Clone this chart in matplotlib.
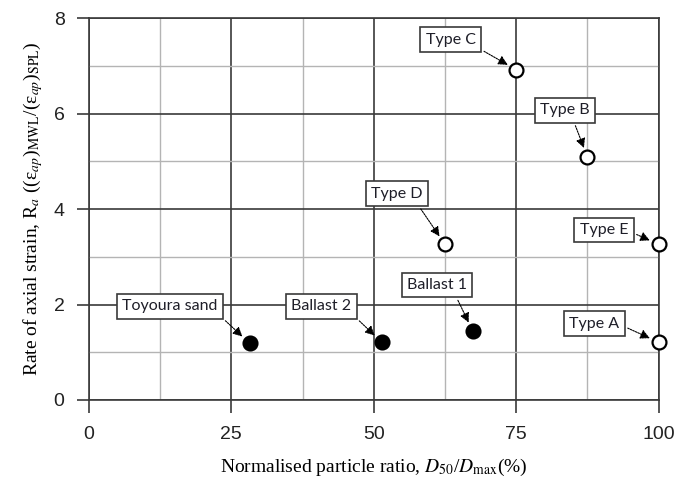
import matplotlib
matplotlib.use('Agg')
import matplotlib.pyplot as plt
from matplotlib.ticker import MultipleLocator

#%%
# data
names = ['Toyoura sand', 'Ballast 2', 'Ballast 1', 'Type A', 'Type E', 'Type D', 'Type C', 'Type B']
ratio = [28.2, 51.4, 67.4, 100, 100, 62.5, 75, 87.5]
strain = [1.19, 1.21, 1.44, 1.21, 3.26, 3.26, 6.92, 5.09]
filled = [True, True, True, False, False, False, False, False]
# where the label boxes sit
label_x = [14.2, 40.8, 61.1, 88.7, 90.4, 54.1, 63.5, 83.5]
label_y = [1.96, 1.96, 2.41, 1.60, 3.56, 4.32, 7.55, 6.07]
# point on the box the arrow leaves from
arrow_from = [(1, 0), (1, 0), (0.78, 0), (1, 0.45), (1, 0.45), (0.85, 0), (1, 0), (0.65, 0)]

plt.rcParams['mathtext.fontset'] = 'stix'

#%%
fig = plt.figure(figsize=(6.89, 4.84), dpi=100)
ax = fig.add_axes([0.129, 0.1736, 0.827, 0.789])

ax.set_xlim(0, 100)
ax.set_ylim(0, 8)
ax.xaxis.set_major_locator(MultipleLocator(25))
ax.xaxis.set_minor_locator(MultipleLocator(12.5))
ax.yaxis.set_major_locator(MultipleLocator(2))
ax.yaxis.set_minor_locator(MultipleLocator(1))

ax.grid(which='minor', color='#b4b4b4', lw=1.0)
ax.grid(which='major', color='#3a3a3a', lw=1.2)
ax.set_axisbelow(True)
for s in ax.spines.values():
    s.set_color('#3a3a3a')
    s.set_linewidth(1.2)

ax.tick_params(which='major', direction='out', length=9, width=1.2, color='#3a3a3a',
               labelsize=14, labelcolor='#222222')
ax.tick_params(axis='x', pad=10)
ax.tick_params(axis='y', pad=8.5)
ax.tick_params(which='minor', length=0)
for lab in ax.get_xticklabels() + ax.get_yticklabels():
    lab.set_family('Liberation Sans')

#%%
# points
for x, y, f in zip(ratio, strain, filled):
    ax.plot(x, y, 'o', ms=10, mfc='black' if f else 'white', mec='black', mew=1.6,
            zorder=5, clip_on=False)

# label boxes with arrows
for n, x, y, lx, ly, rp in zip(names, ratio, strain, label_x, label_y, arrow_from):
    ax.annotate(n, xy=(x, y), xytext=(lx, ly), ha='center', va='center',
                fontsize=11.5, family='Lato', color='#1e1e28', zorder=6,
                bbox=dict(boxstyle='square,pad=0.33', fc='white', ec='#3a3a3a', lw=1.2),
                arrowprops=dict(arrowstyle='-|>', color='black', lw=0.8, relpos=rp,
                                linestyle=(0, (1.5, 1)), shrinkB=7, mutation_scale=14))

ax.set_xlabel(r'Normalised particle ratio, $D_{50}$/$D_{\rm max}$(%)',
              family='Liberation Serif', fontsize=14, labelpad=10)
ax.set_ylabel(r'Rate of axial strain, R$_a$ ((ε$_{ap}$)$_{\rm MWL}$/(ε$_{ap}$)$_{\rm SPL}$)',
              family='Liberation Serif', fontsize=14, labelpad=6)

fig.savefig('out.png', dpi=100)
